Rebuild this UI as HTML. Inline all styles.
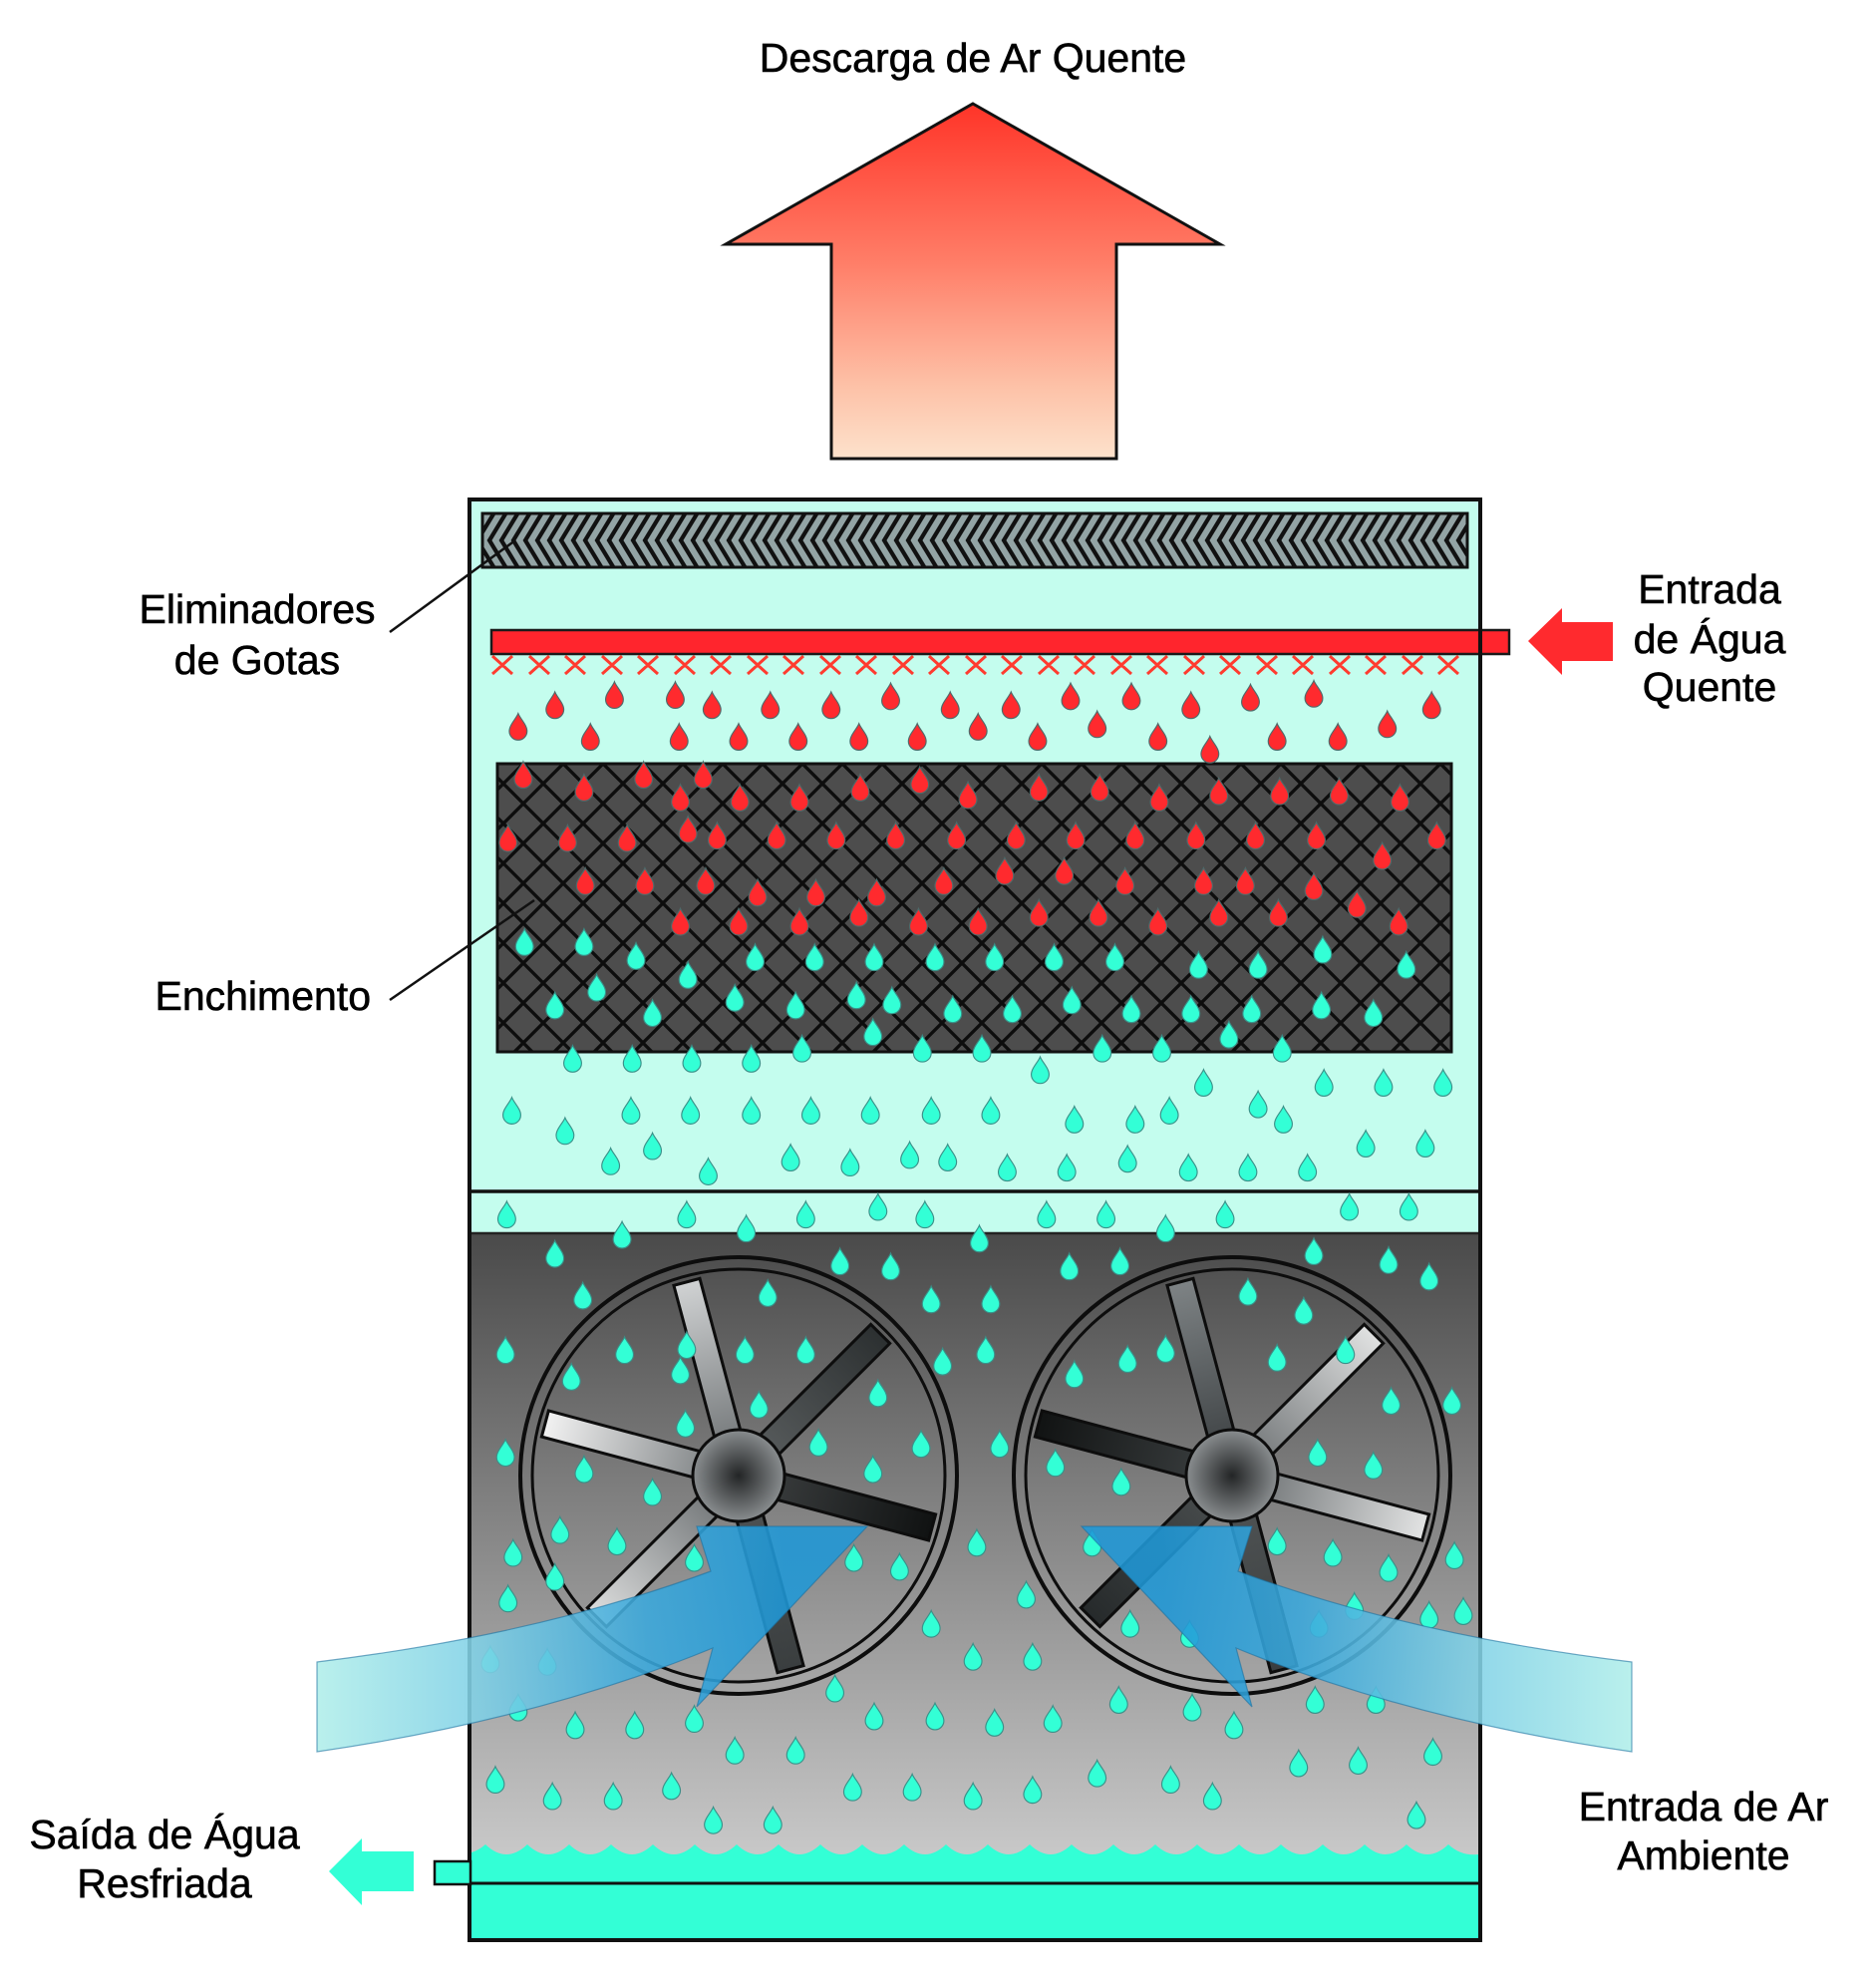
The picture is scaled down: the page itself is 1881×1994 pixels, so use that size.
<!DOCTYPE html>
<html><head><meta charset="utf-8"><style>
html,body{margin:0;padding:0;background:#fff;}
svg{display:block;}
text{font-family:"Liberation Sans",Arial,sans-serif;font-size:41px;fill:#000;stroke:#000;stroke-width:0.6px;}
</style></head><body>
<svg width="1881" height="1994" viewBox="0 0 1881 1994" xmlns="http://www.w3.org/2000/svg">
<defs>
<linearGradient id="ga" gradientUnits="userSpaceOnUse" x1="0" y1="104" x2="0" y2="460">
<stop offset="0" stop-color="#ff3428"/><stop offset="0.45" stop-color="#ff7e68"/><stop offset="0.8" stop-color="#fdc2a8"/><stop offset="1" stop-color="#fde2cc"/></linearGradient>
<linearGradient id="gdark" gradientUnits="userSpaceOnUse" x1="0" y1="1237" x2="0" y2="1865">
<stop offset="0" stop-color="#4a4a4a"/><stop offset="1" stop-color="#c9c9c9"/></linearGradient>
<pattern id="pf" patternUnits="userSpaceOnUse" x="485" y="766" width="40" height="40">
<rect width="40" height="40" fill="#4d4d4d"/>
<path d="M-3,-3 L43,43 M43,-3 L-3,43" stroke="#0d0d0d" stroke-width="3.3"/></pattern>
<pattern id="pe" patternUnits="userSpaceOnUse" x="484" y="515" width="12" height="54">
<rect width="12" height="54" fill="#93a4a5"/>
<path d="M0,-1 L-17,27 L0,55 M12,-1 L-5,27 L12,55 M24,-1 L7,27 L24,55" stroke="#111" stroke-width="4.2" fill="none"/></pattern>
<path id="r" d="M0,-11 C1.5,-7 7,-2 7,3 A7,7 0 0 1 -7,3 C-7,-2 -1.5,-7 0,-11Z" fill="#ff2a2e" stroke="#4f6a6a" stroke-width="0.9"/>
<path id="c" d="M0,-11 C1.5,-7 7,-2 7,3 A7,7 0 0 1 -7,3 C-7,-2 -1.5,-7 0,-11Z" fill="#33ffd6" stroke="#3a9088" stroke-width="0.9"/>
<radialGradient id="hub"><stop offset="0" stop-color="#232526"/><stop offset="1" stop-color="#8a8e90"/></radialGradient>
<linearGradient id="b1a"><stop offset="0" stop-color="#6e7274"/><stop offset="1" stop-color="#d0d2d3"/></linearGradient>
<linearGradient id="b1b"><stop offset="0" stop-color="#5b5f60"/><stop offset="1" stop-color="#2c3031"/></linearGradient>
<linearGradient id="b1c"><stop offset="0" stop-color="#3c3f40"/><stop offset="1" stop-color="#101212"/></linearGradient>
<linearGradient id="b1d"><stop offset="0" stop-color="#505455"/><stop offset="1" stop-color="#3a3e3f"/></linearGradient>
<linearGradient id="b1e"><stop offset="0" stop-color="#6a6e70"/><stop offset="1" stop-color="#dcdddd"/></linearGradient>
<linearGradient id="b1f"><stop offset="0" stop-color="#7a7e80"/><stop offset="1" stop-color="#f2f2f2"/></linearGradient>
<linearGradient id="b2a"><stop offset="0" stop-color="#3c4042"/><stop offset="1" stop-color="#7e8385"/></linearGradient>
<linearGradient id="b2b"><stop offset="0" stop-color="#6d7173"/><stop offset="1" stop-color="#e0e1e1"/></linearGradient>
<linearGradient id="b2c"><stop offset="0" stop-color="#6d7173"/><stop offset="1" stop-color="#e2e3e3"/></linearGradient>
<linearGradient id="b2d"><stop offset="0" stop-color="#505455"/><stop offset="1" stop-color="#3a3e3f"/></linearGradient>
<linearGradient id="b2e"><stop offset="0" stop-color="#4a4e4f"/><stop offset="1" stop-color="#262a2b"/></linearGradient>
<linearGradient id="b2f"><stop offset="0" stop-color="#3a3e3f"/><stop offset="1" stop-color="#111313"/></linearGradient>
<linearGradient id="bl" gradientUnits="userSpaceOnUse" x1="318" y1="0" x2="870" y2="0">
<stop offset="0" stop-color="#b0eeea"/><stop offset="0.3" stop-color="#7fd0e6"/><stop offset="0.6" stop-color="#3aa8dc"/><stop offset="0.85" stop-color="#1f98d7"/></linearGradient>
<linearGradient id="br" gradientUnits="userSpaceOnUse" x1="1637" y1="0" x2="1085" y2="0">
<stop offset="0" stop-color="#b0eeea"/><stop offset="0.3" stop-color="#7fd0e6"/><stop offset="0.6" stop-color="#3aa8dc"/><stop offset="0.85" stop-color="#1f98d7"/></linearGradient>
</defs>

<!-- Hot air discharge arrow -->
<polygon points="976,104 1224,245 1120,245 1120,460 834,460 834,245 728,245" fill="url(#ga)" stroke="#111" stroke-width="3"/>

<!-- Tower body -->
<rect x="473" y="501" width="1010" height="736" fill="#c4fdee"/>
<rect x="473" y="1237" width="1010" height="630" fill="url(#gdark)"/>
<line x1="471" y1="1237" x2="1485" y2="1237" stroke="#222" stroke-width="2.5"/>
<line x1="471" y1="1195" x2="1485" y2="1195" stroke="#111" stroke-width="3.5"/>

<!-- Drift eliminator -->
<rect x="484" y="515" width="988" height="54" fill="url(#pe)" stroke="#111" stroke-width="3"/>

<!-- Hot water pipe -->
<rect x="493" y="632" width="1021" height="24" fill="#ff252d" stroke="#1a1a1a" stroke-width="2.5"/>

<!-- Spray nozzles X -->
<g stroke="#ff3b2f" stroke-width="3" fill="none">
<path d="M494,658 L514,676 M514,658 L494,676 M531,658 L551,676 M551,658 L531,676 M567,658 L587,676 M587,658 L567,676 M604,658 L624,676 M624,658 L604,676 M640,658 L660,676 M660,658 L640,676 M677,658 L697,676 M697,658 L677,676 M713,658 L733,676 M733,658 L713,676 M750,658 L770,676 M770,658 L750,676 M786,658 L806,676 M806,658 L786,676 M823,658 L843,676 M843,658 L823,676 M859,658 L879,676 M879,658 L859,676 M896,658 L916,676 M916,658 L896,676 M932,658 L952,676 M952,658 L932,676 M969,658 L989,676 M989,658 L969,676 M1005,658 L1025,676 M1025,658 L1005,676 M1042,658 L1062,676 M1062,658 L1042,676 M1078,658 L1098,676 M1098,658 L1078,676 M1115,658 L1135,676 M1135,658 L1115,676 M1151,658 L1171,676 M1171,658 L1151,676 M1188,658 L1208,676 M1208,658 L1188,676 M1224,658 L1244,676 M1244,658 L1224,676 M1261,658 L1281,676 M1281,658 L1261,676 M1297,658 L1317,676 M1317,658 L1297,676 M1334,658 L1354,676 M1354,658 L1334,676 M1370,658 L1390,676 M1390,658 L1370,676 M1407,658 L1427,676 M1427,658 L1407,676 M1443,658 L1463,676 M1463,658 L1443,676"/>
</g>

<!-- Fill media -->
<rect x="499" y="766" width="957" height="289" fill="url(#pf)" stroke="#111" stroke-width="3"/>

<!-- Fan 1 -->
<g transform="translate(741,1480)">
<circle r="219" fill="none" stroke="#0d0d0d" stroke-width="4"/>
<circle r="207" fill="none" stroke="#0d0d0d" stroke-width="3"/>
<g stroke="#0d0d0d" stroke-width="3">
<rect x="18" y="-13.5" width="183" height="27" fill="url(#b1a)" transform="rotate(-105)"/>
<rect x="18" y="-13.5" width="183" height="27" fill="url(#b1b)" transform="rotate(-45)"/>
<rect x="18" y="-13.5" width="183" height="27" fill="url(#b1c)" transform="rotate(15)"/>
<rect x="18" y="-13.5" width="183" height="27" fill="url(#b1d)" transform="rotate(75)"/>
<rect x="18" y="-13.5" width="183" height="27" fill="url(#b1e)" transform="rotate(135)"/>
<rect x="18" y="-13.5" width="183" height="27" fill="url(#b1f)" transform="rotate(-165)"/>
</g>
<circle r="46" fill="url(#hub)" stroke="#0d0d0d" stroke-width="3"/>
</g>
<!-- Fan 2 -->
<g transform="translate(1236,1480)">
<circle r="219" fill="none" stroke="#0d0d0d" stroke-width="4"/>
<circle r="207" fill="none" stroke="#0d0d0d" stroke-width="3"/>
<g stroke="#0d0d0d" stroke-width="3">
<rect x="18" y="-13.5" width="183" height="27" fill="url(#b2a)" transform="rotate(-105)"/>
<rect x="18" y="-13.5" width="183" height="27" fill="url(#b2b)" transform="rotate(-45)"/>
<rect x="18" y="-13.5" width="183" height="27" fill="url(#b2c)" transform="rotate(15)"/>
<rect x="18" y="-13.5" width="183" height="27" fill="url(#b2d)" transform="rotate(75)"/>
<rect x="18" y="-13.5" width="183" height="27" fill="url(#b2e)" transform="rotate(135)"/>
<rect x="18" y="-13.5" width="183" height="27" fill="url(#b2f)" transform="rotate(-165)"/>
</g>
<circle r="46" fill="url(#hub)" stroke="#0d0d0d" stroke-width="3"/>
</g>

<!-- Drops -->
<g transform="scale(1.271)">
<use href="#r" x="438" y="557"/><use href="#r" x="485" y="549"/><use href="#r" x="533" y="549"/><use href="#r" x="562" y="557"/><use href="#r" x="608" y="557"/><use href="#r" x="656" y="557"/><use href="#r" x="703" y="550"/><use href="#r" x="750" y="557"/><use href="#r" x="798" y="557"/><use href="#r" x="845" y="550"/><use href="#r" x="893" y="550"/><use href="#r" x="940" y="557"/><use href="#r" x="987" y="551"/><use href="#r" x="1037" y="548"/><use href="#r" x="1130" y="557"/>
<use href="#r" x="409" y="574"/><use href="#r" x="466" y="582"/><use href="#r" x="536" y="582"/><use href="#r" x="583" y="582"/><use href="#r" x="630" y="582"/><use href="#r" x="678" y="582"/><use href="#r" x="724" y="582"/><use href="#r" x="772" y="574"/><use href="#r" x="819" y="582"/><use href="#r" x="866" y="572"/><use href="#r" x="914" y="582"/><use href="#r" x="1008" y="582"/><use href="#r" x="1056" y="582"/><use href="#r" x="1095" y="572"/><use href="#r" x="955" y="592"/>
<use href="#r" x="413" y="612"/><use href="#r" x="461" y="622"/><use href="#r" x="508" y="612"/><use href="#r" x="555" y="612"/><use href="#r" x="537" y="630"/><use href="#r" x="584" y="630"/><use href="#r" x="631" y="630"/><use href="#r" x="679" y="622"/><use href="#r" x="726" y="616"/><use href="#r" x="764" y="628"/><use href="#r" x="820" y="622"/><use href="#r" x="868" y="622"/><use href="#r" x="915" y="630"/><use href="#r" x="962" y="625"/><use href="#r" x="1010" y="625"/><use href="#r" x="1057" y="625"/><use href="#r" x="1105" y="630"/>
<use href="#r" x="401" y="662"/><use href="#r" x="448" y="662"/><use href="#r" x="495" y="662"/><use href="#r" x="543" y="655"/><use href="#r" x="566" y="660"/><use href="#r" x="613" y="660"/><use href="#r" x="660" y="660"/><use href="#r" x="707" y="660"/><use href="#r" x="755" y="660"/><use href="#r" x="802" y="660"/><use href="#r" x="849" y="660"/><use href="#r" x="896" y="660"/><use href="#r" x="944" y="660"/><use href="#r" x="991" y="660"/><use href="#r" x="1039" y="660"/><use href="#r" x="1091" y="676"/><use href="#r" x="1134" y="660"/>
<use href="#r" x="462" y="696"/><use href="#r" x="509" y="696"/><use href="#r" x="557" y="696"/><use href="#r" x="598" y="705"/><use href="#r" x="644" y="705"/><use href="#r" x="692" y="705"/><use href="#r" x="745" y="696"/><use href="#r" x="793" y="688"/><use href="#r" x="840" y="688"/><use href="#r" x="888" y="696"/><use href="#r" x="950" y="696"/><use href="#r" x="983" y="696"/><use href="#r" x="1037" y="700"/><use href="#r" x="1071" y="714"/>
<use href="#r" x="537" y="728"/><use href="#r" x="583" y="728"/><use href="#r" x="631" y="728"/><use href="#r" x="678" y="721"/><use href="#r" x="725" y="728"/><use href="#r" x="772" y="728"/><use href="#r" x="820" y="721"/><use href="#r" x="867" y="721"/><use href="#r" x="914" y="728"/><use href="#r" x="962" y="721"/><use href="#r" x="1009" y="721"/><use href="#r" x="1104" y="728"/>

<use href="#c" x="414" y="744"/><use href="#c" x="461" y="744"/><use href="#c" x="502" y="755"/><use href="#c" x="543" y="770"/><use href="#c" x="596" y="756"/><use href="#c" x="643" y="756"/><use href="#c" x="690" y="756"/><use href="#c" x="738" y="756"/><use href="#c" x="785" y="756"/><use href="#c" x="832" y="756"/><use href="#c" x="880" y="756"/><use href="#c" x="946" y="762"/><use href="#c" x="993" y="762"/><use href="#c" x="1044" y="750"/><use href="#c" x="1110" y="762"/>
<use href="#c" x="471" y="780"/><use href="#c" x="580" y="788"/><use href="#c" x="676" y="786"/>
<use href="#c" x="438" y="794"/><use href="#c" x="515" y="800"/><use href="#c" x="628" y="794"/><use href="#c" x="704" y="790"/><use href="#c" x="752" y="797"/><use href="#c" x="799" y="797"/><use href="#c" x="846" y="790"/><use href="#c" x="893" y="797"/><use href="#c" x="940" y="797"/><use href="#c" x="988" y="797"/><use href="#c" x="1043" y="794"/><use href="#c" x="1084" y="800"/>
<use href="#c" x="689" y="815"/><use href="#c" x="970" y="817"/>
<use href="#c" x="633" y="828"/><use href="#c" x="728" y="828"/><use href="#c" x="775" y="828"/><use href="#c" x="870" y="828"/><use href="#c" x="917" y="828"/><use href="#c" x="1012" y="828"/>
<use href="#c" x="452" y="836"/><use href="#c" x="499" y="836"/><use href="#c" x="546" y="836"/><use href="#c" x="593" y="836"/><use href="#c" x="821" y="845"/><use href="#c" x="950" y="855"/><use href="#c" x="1045" y="855"/><use href="#c" x="1092" y="855"/><use href="#c" x="1139" y="855"/>
<use href="#c" x="404" y="877"/><use href="#c" x="498" y="877"/><use href="#c" x="545" y="877"/><use href="#c" x="593" y="877"/><use href="#c" x="640" y="877"/><use href="#c" x="687" y="877"/><use href="#c" x="735" y="877"/><use href="#c" x="782" y="877"/><use href="#c" x="848" y="884"/><use href="#c" x="896" y="884"/><use href="#c" x="923" y="877"/><use href="#c" x="993" y="872"/><use href="#c" x="1013" y="884"/>
<use href="#c" x="446" y="893"/><use href="#c" x="515" y="905"/><use href="#c" x="1078" y="903"/><use href="#c" x="1125" y="903"/>
<use href="#c" x="482" y="917"/><use href="#c" x="559" y="925"/><use href="#c" x="624" y="914"/><use href="#c" x="671" y="918"/><use href="#c" x="718" y="912"/><use href="#c" x="748" y="914"/><use href="#c" x="795" y="922"/><use href="#c" x="842" y="922"/><use href="#c" x="890" y="915"/><use href="#c" x="938" y="922"/><use href="#c" x="985" y="922"/><use href="#c" x="1032" y="922"/>
<use href="#c" x="400" y="959"/><use href="#c" x="542" y="959"/><use href="#c" x="636" y="959"/><use href="#c" x="693" y="953"/><use href="#c" x="730" y="959"/><use href="#c" x="826" y="959"/><use href="#c" x="873" y="959"/><use href="#c" x="967" y="959"/><use href="#c" x="1065" y="953"/><use href="#c" x="1112" y="953"/>
<use href="#c" x="491" y="975"/><use href="#c" x="589" y="970"/><use href="#c" x="773" y="978"/><use href="#c" x="920" y="970"/>
<use href="#c" x="438" y="990"/><use href="#c" x="663" y="996"/><use href="#c" x="703" y="1000"/><use href="#c" x="844" y="1000"/><use href="#c" x="884" y="996"/><use href="#c" x="1037" y="988"/><use href="#c" x="1096" y="995"/><use href="#c" x="1128" y="1008"/>
<use href="#c" x="460" y="1023"/><use href="#c" x="606" y="1021"/><use href="#c" x="735" y="1026"/><use href="#c" x="782" y="1026"/><use href="#c" x="985" y="1020"/><use href="#c" x="1029" y="1035"/>
<use href="#c" x="399" y="1066"/><use href="#c" x="493" y="1066"/><use href="#c" x="542" y="1062"/><use href="#c" x="588" y="1066"/><use href="#c" x="636" y="1066"/><use href="#c" x="744" y="1075"/><use href="#c" x="778" y="1066"/><use href="#c" x="890" y="1073"/><use href="#c" x="920" y="1065"/><use href="#c" x="1008" y="1072"/><use href="#c" x="1062" y="1066"/>
<use href="#c" x="451" y="1087"/><use href="#c" x="537" y="1082"/><use href="#c" x="848" y="1085"/>
<use href="#c" x="599" y="1109"/><use href="#c" x="693" y="1100"/><use href="#c" x="1098" y="1106"/><use href="#c" x="1146" y="1106"/>
<use href="#c" x="399" y="1147"/><use href="#c" x="541" y="1124"/><use href="#c" x="646" y="1139"/><use href="#c" x="727" y="1140"/><use href="#c" x="789" y="1140"/><use href="#c" x="833" y="1155"/><use href="#c" x="885" y="1170"/><use href="#c" x="1040" y="1147"/><use href="#c" x="1084" y="1157"/>
<use href="#c" x="461" y="1160"/><use href="#c" x="689" y="1160"/><use href="#c" x="515" y="1178"/>
<use href="#c" x="442" y="1208"/><use href="#c" x="487" y="1217"/><use href="#c" x="771" y="1218"/><use href="#c" x="862" y="1218"/><use href="#c" x="1008" y="1217"/><use href="#c" x="1052" y="1226"/><use href="#c" x="1096" y="1238"/><use href="#c" x="1148" y="1228"/>
<use href="#c" x="405" y="1226"/><use href="#c" x="548" y="1230"/><use href="#c" x="674" y="1230"/><use href="#c" x="710" y="1237"/>
<use href="#c" x="401" y="1262"/><use href="#c" x="438" y="1245"/><use href="#c" x="810" y="1259"/><use href="#c" x="1069" y="1268"/><use href="#c" x="1128" y="1275"/><use href="#c" x="1155" y="1272"/>
<use href="#c" x="735" y="1282"/><use href="#c" x="892" y="1282"/><use href="#c" x="939" y="1290"/><use href="#c" x="1041" y="1282"/>
<use href="#c" x="387" y="1310"/><use href="#c" x="432" y="1312"/><use href="#c" x="768" y="1308"/><use href="#c" x="815" y="1308"/>
<use href="#c" x="659" y="1333"/><use href="#c" x="883" y="1342"/><use href="#c" x="1038" y="1342"/><use href="#c" x="1086" y="1342"/>
<use href="#c" x="409" y="1348"/><use href="#c" x="548" y="1357"/><use href="#c" x="690" y="1355"/><use href="#c" x="738" y="1355"/><use href="#c" x="785" y="1360"/><use href="#c" x="831" y="1357"/><use href="#c" x="941" y="1348"/><use href="#c" x="974" y="1362"/>
<use href="#c" x="454" y="1362"/><use href="#c" x="501" y="1362"/>
<use href="#c" x="580" y="1382"/><use href="#c" x="628" y="1382"/><use href="#c" x="1131" y="1383"/>
<use href="#c" x="1025" y="1392"/><use href="#c" x="1072" y="1390"/><use href="#c" x="866" y="1400"/>
<use href="#c" x="391" y="1405"/><use href="#c" x="530" y="1410"/><use href="#c" x="673" y="1411"/><use href="#c" x="720" y="1411"/><use href="#c" x="768" y="1418"/><use href="#c" x="815" y="1413"/><use href="#c" x="924" y="1405"/><use href="#c" x="957" y="1418"/>
<use href="#c" x="436" y="1418"/><use href="#c" x="484" y="1418"/>
<use href="#c" x="563" y="1437"/><use href="#c" x="610" y="1437"/><use href="#c" x="1118" y="1433"/>
</g>

<!-- Water basin -->
<path d="M473,1945 L473,1858 Q480,1856 487,1850 Q508,1870 529,1850 Q550,1870 571,1850 Q592,1870 613,1850 Q634,1870 655,1850 Q676,1870 697,1850 Q718,1870 739,1850 Q760,1870 781,1850 Q802,1870 823,1850 Q844,1870 865,1850 Q886,1870 907,1850 Q928,1870 949,1850 Q970,1870 991,1850 Q1012,1870 1033,1850 Q1054,1870 1075,1850 Q1096,1870 1117,1850 Q1138,1870 1159,1850 Q1180,1870 1201,1850 Q1222,1870 1243,1850 Q1264,1870 1285,1850 Q1306,1870 1327,1850 Q1348,1870 1369,1850 Q1390,1870 1411,1850 Q1432,1870 1453,1850 Q1466,1862 1483,1860 L1483,1945 Z" fill="#33ffd6"/>
<line x1="471" y1="1889" x2="1485" y2="1889" stroke="#111" stroke-width="3"/>

<!-- Tower outline -->
<rect x="471" y="501" width="1014" height="1445" fill="none" stroke="#111" stroke-width="4"/>

<!-- Ambient air arrows -->
<path d="M318,1667 Q540,1640 713,1576 L699,1531 L870,1531 L699,1712 L715,1653 Q540,1725 318,1757 Z" fill="url(#bl)" fill-opacity="0.88" stroke="#1a6f9e" stroke-opacity="0.6" stroke-width="1.2"/>
<path d="M1637,1667 Q1415,1640 1242,1576 L1256,1531 L1085,1531 L1256,1712 L1240,1653 Q1415,1725 1637,1757 Z" fill="url(#br)" fill-opacity="0.88" stroke="#1a6f9e" stroke-opacity="0.6" stroke-width="1.2"/>

<!-- Outlet pipe and arrows -->
<rect x="436" y="1867" width="36" height="23" fill="#33ffd6" stroke="#111" stroke-width="2.5"/>
<polygon points="330,1877 363,1844 363,1857 415,1857 415,1897 363,1897 363,1911" fill="#33ffd6"/>
<polygon points="1533,643 1567,610 1567,624 1618,624 1618,663 1567,663 1567,677" fill="#ff2a2e"/>

<!-- Leader lines -->
<line x1="391" y1="634" x2="517" y2="542" stroke="#111" stroke-width="2.5"/>
<line x1="391" y1="1003" x2="536" y2="903" stroke="#111" stroke-width="2.5"/>

<!-- Labels -->
<text x="976" y="72" text-anchor="middle">Descarga de Ar Quente</text>
<text x="258" y="625" text-anchor="middle">Eliminadores</text>
<text x="258" y="676" text-anchor="middle">de Gotas</text>
<text x="372" y="1013" text-anchor="end">Enchimento</text>
<text x="1715" y="605" text-anchor="middle">Entrada</text>
<text x="1715" y="655" text-anchor="middle">de Água</text>
<text x="1715" y="703" text-anchor="middle">Quente</text>
<text x="1709" y="1826" text-anchor="middle">Entrada de Ar</text>
<text x="1709" y="1875" text-anchor="middle">Ambiente</text>
<text x="165" y="1854" text-anchor="middle">Saída de Água</text>
<text x="165" y="1903" text-anchor="middle">Resfriada</text>
</svg>
</body></html>
